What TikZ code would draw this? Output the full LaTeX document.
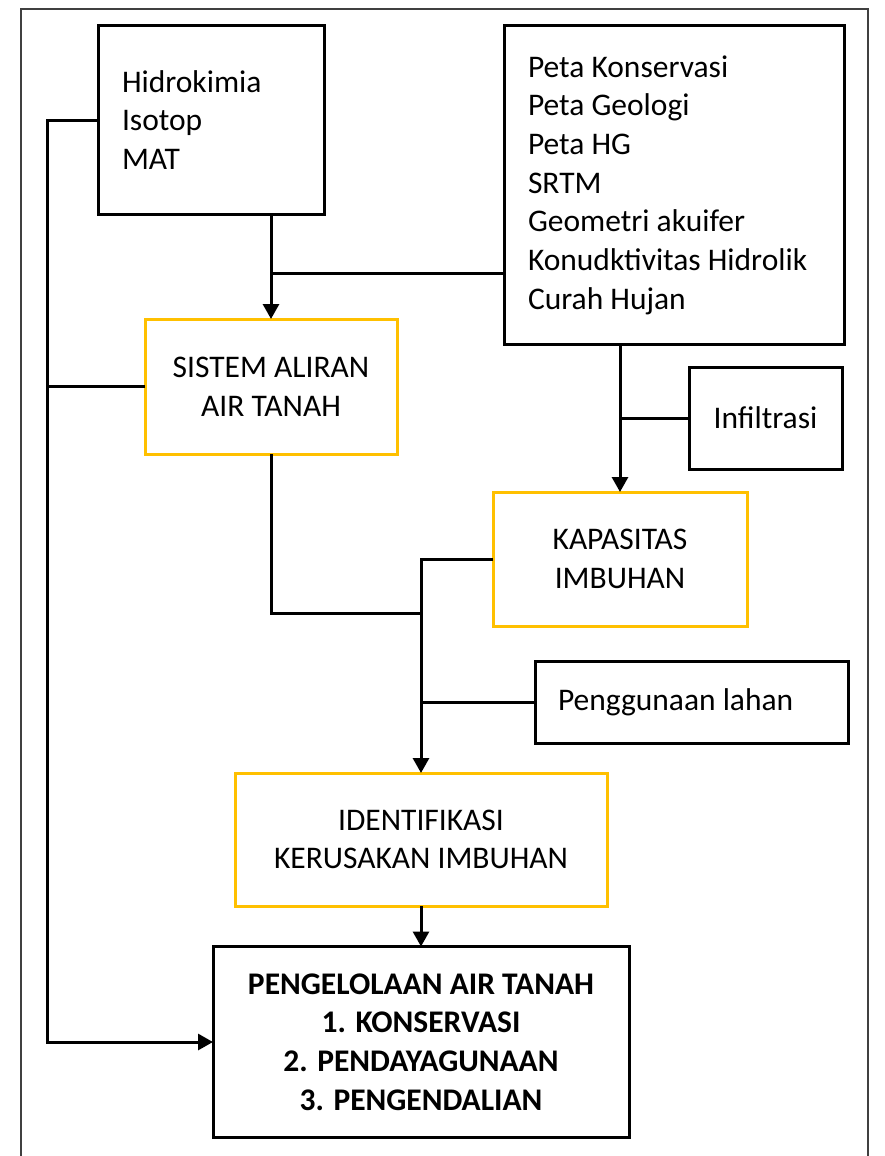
\documentclass[tikz,border=0pt]{standalone}
\usepackage{fontspec}
\setmainfont{Carlito}
\usetikzlibrary{arrows.meta}
\definecolor{boxyellow}{HTML}{FFC000}
\tikzset{
  base/.style={rectangle, line width=3pt, inner sep=0pt, outer sep=0pt, align=center,
    font=\fontsize{31.5}{38.7}\selectfont},
  blackbox/.style={base, draw=black},
  yellowbox/.style={base, draw=boxyellow},
  conn/.style={line width=3pt, black},
  arr/.style={conn, -{Triangle[length=15pt,width=16pt]}},
}
\newcommand{\tightsp}{\spaceskip=0pt\xspaceskip=0pt\relax}
\begin{document}
\begin{tikzpicture}[x=1pt,y=-1pt]
\useasboundingbox (0,0) rectangle (885,1156);
\draw[line width=2pt, black!75] (21,1160) -- (21,9) -- (868,9) -- (868,1160);

\node[blackbox, minimum width=226pt, minimum height=189pt, text width=178pt, align=left]
  (hid) at (211,120) {\tightsp Hidrokimia\\Isotop\\MAT};
\node[blackbox, minimum width=340pt, minimum height=318pt, text width=292pt, align=left]
  (peta) at (674,185) {\tightsp Peta Konservasi\\Peta Geologi\\Peta HG\\SRTM\\Geometri akuifer\\Konudktivitas Hidrolik\\Curah Hujan};
\node[yellowbox, minimum width=252pt, minimum height=135pt] (sis) at (271,386.5) {SISTEM ALIRAN\\AIR TANAH};
\node[blackbox, minimum width=153pt, minimum height=102pt] (inf) at (765.5,418) {Infiltrasi};
\node[yellowbox, minimum width=254pt, minimum height=134pt] (kap) at (620,559) {KAPASITAS\\IMBUHAN};
\node[blackbox, minimum width=313pt, minimum height=82pt, text width=267pt, align=left] (peng) at (691.5,702) {\tightsp Penggunaan lahan};
\node[yellowbox, minimum width=372pt, minimum height=133pt] (idn) at (421,839.5) {IDENTIFIKASI\\KERUSAKAN IMBUHAN};
\node[blackbox, minimum width=416pt, minimum height=191pt, font=\fontsize{31.5}{38.7}\selectfont\bfseries] (pgl) at (421,1042)
  {PENGELOLAAN AIR TANAH\\1. KONSERVASI\\2. PENDAYAGUNAAN\\3. PENGENDALIAN};

\coordinate (lx) at (47,0);
\coordinate (j1) at (271,273);
\coordinate (j2) at (421,613);

\draw[arr] (sis.north |- hid.south) -- (sis.north);
\draw[conn] (peta.west |- j1) -- (j1);
\draw[arr] (hid.west) -- (hid.west -| lx) -- (pgl.west -| lx) -- (pgl.west);
\draw[conn] (sis.west) -- (sis.west -| lx);
\draw[conn] (sis.south) |- (j2);
\draw[arr] (kap.west) -| (idn.north);
\draw[conn] (peng.west) -- (peng.west -| idn.north);
\draw[arr] (kap.north |- peta.south) -- (kap.north);
\draw[conn] (inf.west) -- (inf.west -| kap.north);
\draw[arr] (idn.south) -- (pgl.north);
\end{tikzpicture}
\end{document}
